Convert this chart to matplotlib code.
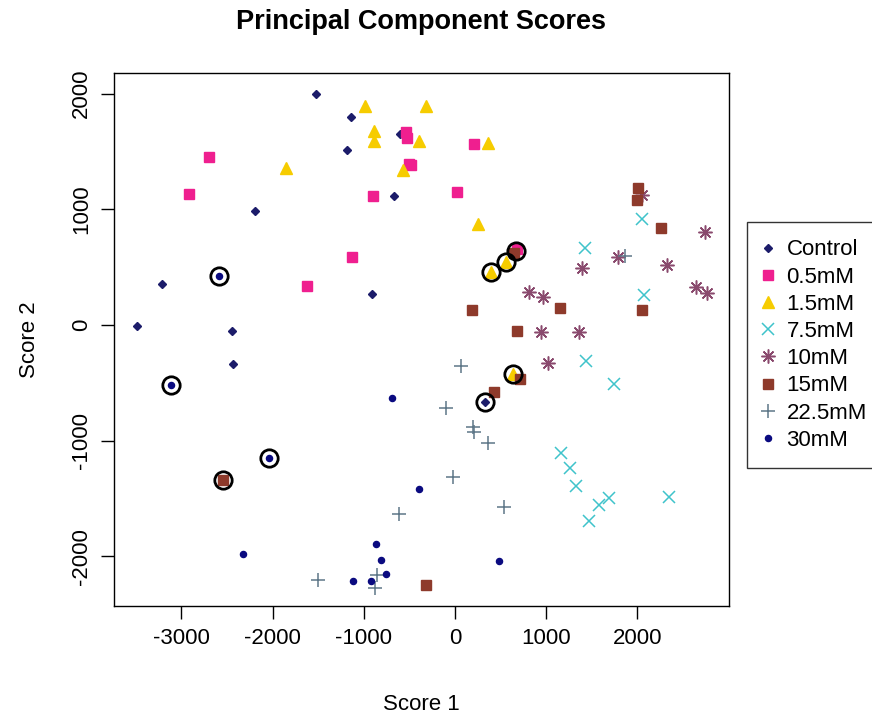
import matplotlib
matplotlib.use("Agg")
import matplotlib.pyplot as plt
from matplotlib.lines import Line2D

plt.rcParams['font.family'] = ['Liberation Sans', 'DejaVu Sans']
plt.rcParams['axes.unicode_minus'] = False

groups = ["Control", "0.5mM", "1.5mM", "7.5mM", "10mM", "15mM", "22.5mM", "30mM"]

control_x = [-1527, -1140, -603, -1181, -665, -2197, -3209, -907, -3491, -2449, -2431, 329]
control_y = [1997, 1800, 1648, 1513, 1118, 988, 352, 268, -9, -52, -340, -668]

mm05_x = [-2697, -2917, -537, -530, 208, -504, -482, -896, 18, -1133, -1626, 680]
mm05_y = [1452, 1135, 1671, 1614, 1564, 1389, 1383, 1118, 1147, 590, 340, 657]

mm15_x = [-1857, -987, -322, -885, -885, -391, 365, -567, 256, 393, 559, 640]
mm15_y = [1354, 1893, 1893, 1677, 1590, 1593, 1576, 1340, 873, 461, 547, -424]

mm75_x = [1422, 2054, 2072, 1433, 1743, 1166, 1261, 1323, 1583, 1692, 1473, 2346]
mm75_y = [663, 916, 259, -308, -510, -1104, -1233, -1392, -1556, -1498, -1691, -1484]

mm10_x = [2047, 2741, 1784, 1389, 2321, 2639, 2766, 815, 968, 943, 1360, 1023]
mm10_y = [1124, 807, 585, 490, 519, 326, 274, 288, 245, -58, -58, -331]

mm15b_x = [2010, 1992, 2262, 2047, 1151, 190, 676, 713, 428, -318, -2541, 647]
mm15b_y = [1181, 1080, 841, 130, 150, 127, -49, -469, -582, -2247, -1340, 622]

mm225_x = [1864, 69, -99, 194, 208, 365, -25, -617, 537, -859, -877, -1499]
mm225_y = [596, -351, -720, -879, -922, -1017, -1316, -1636, -1576, -2161, -2270, -2204]

mm30_x = [-2588, -3118, -2039, -694, -398, -863, -815, -757, -1115, -925, -2321, 486]
mm30_y = [426, -519, -1147, -628, -1417, -1893, -2031, -2152, -2213, -2213, -1982, -2040]

# highlighted observations (open black rings)
ring_x = [-2588, -3118, -2039, -2541, 393, 559, 664, 640, 329]
ring_y = [426, -519, -1147, -1340, 461, 547, 640, -424, -668]

series_x = [control_x, mm05_x, mm15_x, mm75_x, mm10_x, mm15b_x, mm225_x, mm30_x]
series_y = [control_y, mm05_y, mm15_y, mm75_y, mm10_y, mm15b_y, mm225_y, mm30_y]

colors = ["#1c1c6a", "#ef1f8f", "#f6cc00", "#3fc3cb", "#8a4a6e", "#8e3a2b", "#5e7788", "#0a0a80"]
markers = ["D", "s", "^", "x", (8, 2, 0), "s", "+", "o"]
sizes = [4.2, 7, 8, 8, 10, 7, 10.5, 4.4]
widths = [1, 1, 1, 1.1, 1.1, 1, 1.1, 1]

fig = plt.figure(figsize=(8.72, 7.17), dpi=100)
ax = fig.add_axes([114 / 872, 1 - 606 / 717, (729.3 - 114) / 872, (606 - 73.3) / 717])

handles = []
for name, xs, ys, c, m, s, w in zip(groups, series_x, series_y, colors, markers, sizes, widths):
    ax.plot(xs, ys, linestyle="none", marker=m, color=c, markersize=s,
            markeredgewidth=w, markeredgecolor=c, zorder=3)
    handles.append(Line2D([], [], linestyle="none", marker=m, color=c, markersize=s,
                          markeredgewidth=w, markeredgecolor=c, label=name))

ax.plot(ring_x, ring_y, linestyle="none", marker="o", markersize=12.5,
        markerfacecolor="none", markeredgecolor="black", markeredgewidth=2, zorder=4)

ax.set_xlim(-3739, 3008)
ax.set_ylim(-2429, 2175)
ax.set_xticks([-3000, -2000, -1000, 0, 1000, 2000])
ax.set_yticks([-2000, -1000, 0, 1000, 2000])
ax.tick_params(axis="both", direction="out", length=9.6, width=1, labelsize=16)
ax.tick_params(axis="x", pad=6.5)
ax.tick_params(axis="y", pad=6.2)
for lab in ax.get_yticklabels():
    lab.set_rotation(90)
    lab.set_va("center")
for sp in ax.spines.values():
    sp.set_linewidth(1)

ax.set_xlabel("Score 1", fontsize=16, labelpad=32.5)
ax.set_ylabel("Score 2", fontsize=16, labelpad=22.5)
fig.suptitle("Principal Component Scores", fontsize=19.5, fontweight="bold", x=0.483, y=0.988)

leg = fig.legend(handles=handles, loc="upper left", bbox_to_anchor=(747 / 872, 1 - 222 / 717),
                 fontsize=16, frameon=True, fancybox=False, edgecolor="black",
                 handlelength=0.3, handletextpad=0.7, labelspacing=0.28, borderpad=0.78,
                 borderaxespad=0)
leg.get_frame().set_linewidth(1)

fig.savefig("out.png", dpi=100)
